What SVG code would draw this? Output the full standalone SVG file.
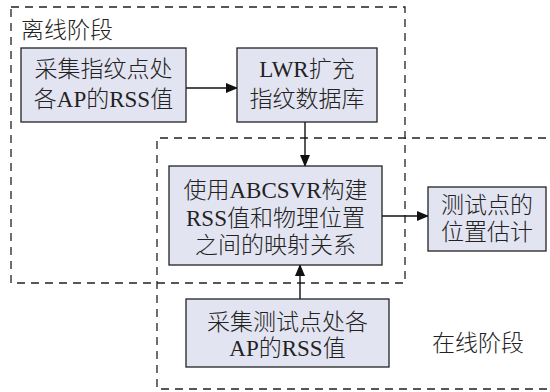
<svg xmlns="http://www.w3.org/2000/svg" width="550" height="392" viewBox="0 0 550 392">
<style>
.box{fill:#e3e4f1;stroke:#222;stroke-width:1.3}
.zone{fill:none;stroke:#222;stroke-width:1.3;stroke-dasharray:8,6}
.t{font-family:"Liberation Serif","Noto Sans CJK SC",serif;font-size:23px;font-weight:300;fill:#222;text-anchor:middle}
.lbl{font-family:"Liberation Serif","Noto Sans CJK SC",serif;font-size:23px;font-weight:300;fill:#222}
.c{stroke:#111;stroke-width:1.4;fill:none}
</style>
<defs>
<marker id="ah" markerWidth="12" markerHeight="10" refX="11" refY="5" orient="auto" markerUnits="userSpaceOnUse">
<path d="M0,0 L12,5 L0,10 Z" fill="#111"/>
</marker>
</defs>
<rect width="550" height="392" fill="#fff"/>
<g id="offline-zone">
<rect class="zone" x="11" y="7" width="394" height="276"/>
<text class="lbl" x="21" y="38">离线阶段</text>
</g>
<g id="online-zone">
<path class="zone" d="M560,138 H157 V389 H560"/>
<text class="lbl" x="432" y="351">在线阶段</text>
</g>
<g id="connectors">
<line class="c" x1="186" y1="88" x2="237" y2="88" marker-end="url(#ah)"/>
<line class="c" x1="305" y1="122" x2="305" y2="166" marker-end="url(#ah)"/>
<line class="c" x1="382" y1="216" x2="428" y2="216" marker-end="url(#ah)"/>
<line class="c" x1="300" y1="299" x2="300" y2="265" marker-end="url(#ah)"/>
</g>
<g id="n1">
<rect class="box" x="21" y="48" width="165" height="74"/>
<text class="t" x="103.5" y="77">采集指纹点处</text>
<text class="t" x="103.5" y="107">各AP的RSS值</text>
</g>
<g id="n2">
<rect class="box" x="237" y="48" width="140" height="74"/>
<text class="t" x="307" y="77">LWR扩充</text>
<text class="t" x="307" y="107">指纹数据库</text>
</g>
<g id="n3">
<rect class="box" x="169" y="166" width="213" height="99"/>
<text class="t" x="275.5" y="198">使用ABCSVR构建</text>
<text class="t" x="275.5" y="226">RSS值和物理位置</text>
<text class="t" x="275.5" y="253">之间的映射关系</text>
</g>
<g id="n4">
<rect class="box" x="428" y="187" width="118" height="64"/>
<text class="t" x="487" y="213">测试点的</text>
<text class="t" x="487" y="240">位置估计</text>
</g>
<g id="n5">
<rect class="box" x="186" y="299" width="203" height="68"/>
<text class="t" x="287.5" y="330">采集测试点处各</text>
<text class="t" x="287.5" y="356">AP的RSS值</text>
</g>
</svg>
